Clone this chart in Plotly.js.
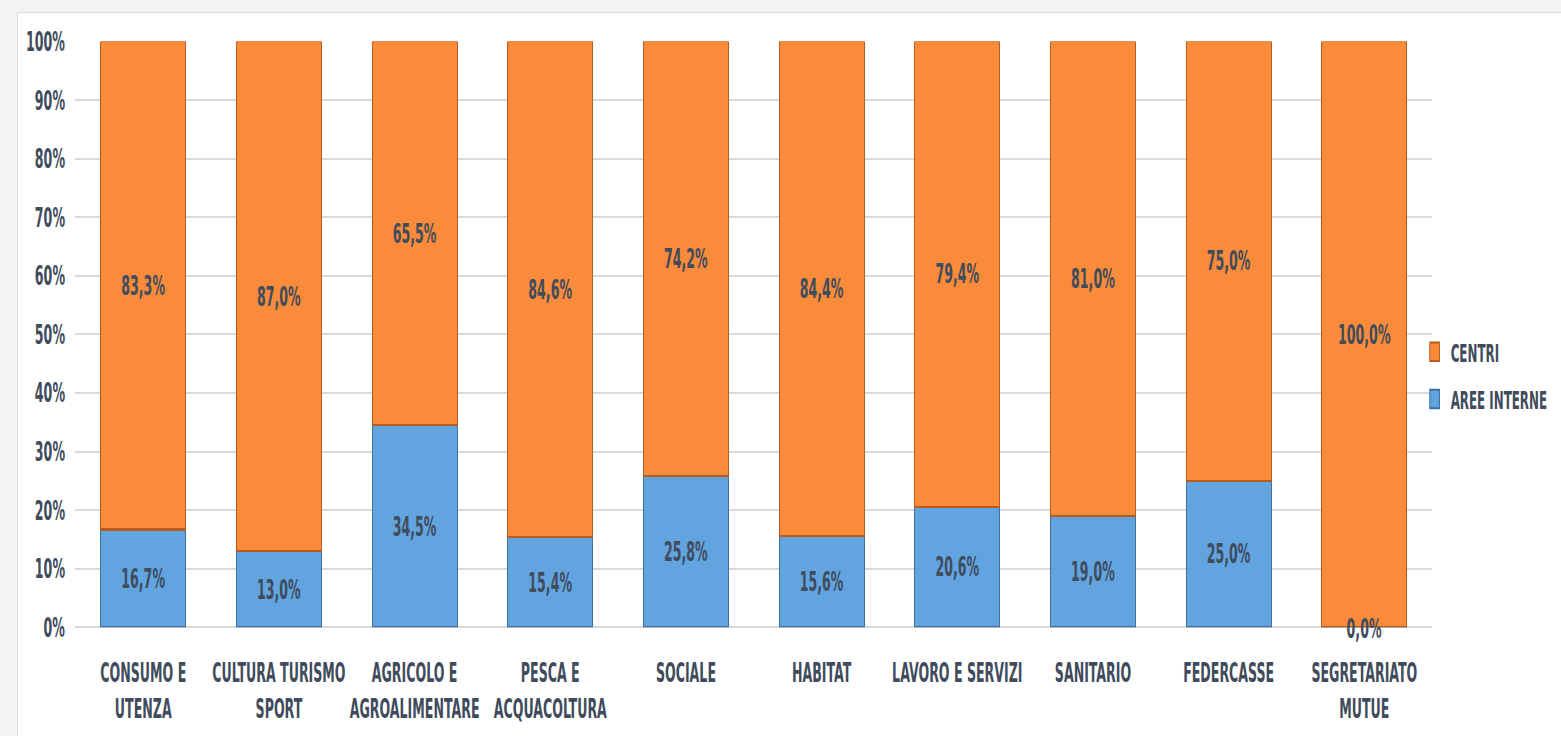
<!DOCTYPE html>
<html>
<head>
<meta charset="utf-8">
<script src="https://cdn.plot.ly/plotly-3.0.1.min.js"></script>
<style>
  html, body { margin: 0; padding: 0; background: #f3f3f3; width: 1561px; height: 736px; overflow: hidden; }
  #wrap { position: absolute; left: 17px; top: 12px; width: 1544px; height: 724px; background: #ffffff;
          border-left: 1px solid #dcdcdc; border-top: 1px solid #dcdcdc; box-sizing: border-box; overflow: hidden; }
  #chart { position: absolute; left: -1px; top: -1px; width: 1930px; height: 467px;
           transform: scale(0.8, 1.55); transform-origin: 0 0; }
</style>
</head>
<body>
<div id="wrap"><div id="chart"></div></div>
<script>
const categories = [
  "CONSUMO E<br>UTENZA",
  "CULTURA TURISMO<br>SPORT",
  "AGRICOLO E<br>AGROALIMENTARE",
  "PESCA E<br>ACQUACOLTURA",
  "SOCIALE",
  "HABITAT",
  "LAVORO E SERVIZI",
  "SANITARIO",
  "FEDERCASSE",
  "SEGRETARIATO<br>MUTUE"
];
const areeInterne = [16.7, 13.0, 34.5, 15.4, 25.8, 15.6, 20.6, 19.0, 25.0, 0.0];
const centri      = [83.3, 87.0, 65.5, 84.6, 74.2, 84.4, 79.4, 81.0, 75.0, 100.0];
const yTicks = [0, 10, 20, 30, 40, 50, 60, 70, 80, 90, 100];

const FONT = "'DejaVu Sans Condensed', 'Liberation Sans Narrow', sans-serif";
const TXT = "#404b5c";
const F = { family: FONT, size: 17.5, color: TXT, weight: "bold" };

const traces = [
  {
    type: "bar", name: "AREE INTERNE", x: categories, y: areeInterne,
    marker: { color: "#62a4e0", line: { color: "#3b6f9f", width: 1.3 } },
    texttemplate: "%{y:.1f}%", textposition: "inside", insidetextanchor: "middle",
    textangle: 0, constraintext: "none", textfont: F,
    legendgroup: "a", legendrank: 2
  },
  {
    type: "bar", name: "CENTRI", x: categories, y: centri,
    marker: { color: "#fa8b3b", line: { color: "#b95b1c", width: 1.3 } },
    texttemplate: "%{y:.1f}%", textposition: "inside", insidetextanchor: "middle",
    textangle: 0, constraintext: "none", textfont: F,
    legendgroup: "c", legendrank: 1
  }
];

// labels for zero-height segments (cannot be drawn inside a bar)
const annotations = [];
areeInterne.forEach((v, i) => {
  if (v === 0) {
    annotations.push({
      x: categories[i], y: v, xref: "x", yref: "y",
      text: v.toFixed(1).replace(".", ",") + "%", showarrow: false,
      yanchor: "middle", yshift: -1, font: F
    });
  }
});

const layout = {
  width: 1930, height: 467,
  margin: { l: 72.5, r: 161.25, t: 19, b: 70, autoexpand: false },
  paper_bgcolor: "rgba(0,0,0,0)", plot_bgcolor: "rgba(0,0,0,0)",
  barmode: "stack", bargap: 0.374,
  separators: ",.",
  font: F,
  showlegend: true,
  legend: {
    x: 0.99, xanchor: "left", y: 0.43, yanchor: "middle",
    traceorder: "grouped", tracegroupgap: 6,
    font: { family: FONT, size: 16.5, color: TXT, weight: "bold" },
    bgcolor: "rgba(0,0,0,0)"
  },
  xaxis: {
    type: "category", showgrid: false, showline: false, ticks: "",
    tickangle: 0, ticklabelstandoff: 17, tickfont: F
  },
  yaxis: {
    range: [0, 100], tickvals: yTicks, ticktext: yTicks.map(v => v + "%"),
    showgrid: true, gridcolor: "#d9d9d9", gridwidth: 1.3,
    zeroline: true, zerolinecolor: "#d9d9d9", zerolinewidth: 1.3,
    showline: false, ticks: "", ticklabelstandoff: 12, tickfont: F
  },
  annotations: annotations
};

Plotly.newPlot("chart", traces, layout, { staticPlot: true, displayModeBar: false });
</script>
</body>
</html>
